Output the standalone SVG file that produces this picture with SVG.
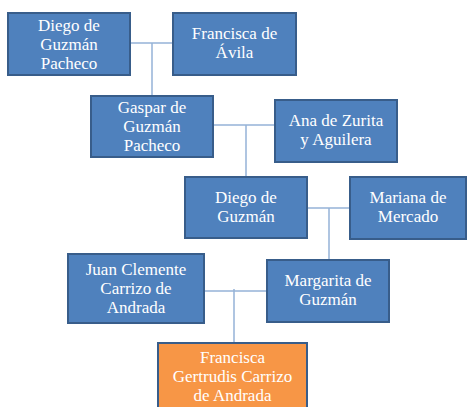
<svg xmlns="http://www.w3.org/2000/svg" width="467" height="407" viewBox="0 0 467 407">
<style>
.box{fill:#4F81BD;stroke:#385D8A;stroke-width:2}
.me{fill:#F79646;stroke:#385D8A;stroke-width:2}
text{font-family:"Liberation Serif","DejaVu Serif",serif;font-size:17px;fill:#FFFFFF;text-anchor:middle}
.c{stroke:#95B3D7;stroke-width:1.5;fill:none}
</style>
<rect width="467" height="407" fill="#FFFFFF"/>
<g id="connectors">
<path class="c" d="M130 43H173M152 43V96"/>
<path class="c" d="M213 125H275M246 125V177"/>
<path class="c" d="M307 208H350M329 208V260"/>
<path class="c" d="M204 291H267M234 289V343"/>
</g>
<g id="n1"><rect class="box" x="8" y="13" width="122" height="62"/>
<text x="69" y="31">Diego de</text><text x="69" y="50">Guzmán</text><text x="69" y="69">Pacheco</text></g>
<g id="n2"><rect class="box" x="173" y="13" width="123" height="62"/>
<text x="234.5" y="39">Francisca de</text><text x="234.5" y="58">Ávila</text></g>
<g id="n3"><rect class="box" x="91" y="96" width="122" height="61"/>
<text x="152" y="113">Gaspar de</text><text x="152" y="132">Guzmán</text><text x="152" y="151">Pacheco</text></g>
<g id="n4"><rect class="box" x="275" y="100" width="122" height="62"/>
<text x="336" y="126">Ana de Zurita</text><text x="336" y="145">y Aguilera</text></g>
<g id="n5"><rect class="box" x="185" y="177" width="122" height="61"/>
<text x="246" y="203">Diego de</text><text x="246" y="222">Guzmán</text></g>
<g id="n6"><rect class="box" x="350" y="177" width="116" height="62"/>
<text x="408" y="203">Mariana de</text><text x="408" y="222">Mercado</text></g>
<g id="n7"><rect class="box" x="68" y="254" width="136" height="69"/>
<text x="136" y="275">Juan Clemente</text><text x="136" y="294">Carrizo de</text><text x="136" y="313">Andrada</text></g>
<g id="n8"><rect class="box" x="267" y="260" width="122" height="62"/>
<text x="328" y="286">Margarita de</text><text x="328" y="305">Guzmán</text></g>
<g id="n9"><rect class="me" x="158" y="343" width="149" height="72"/>
<text x="232.5" y="363">Francisca</text><text x="232.5" y="382">Gertrudis Carrizo</text><text x="232.5" y="401">de Andrada</text></g>
</svg>
